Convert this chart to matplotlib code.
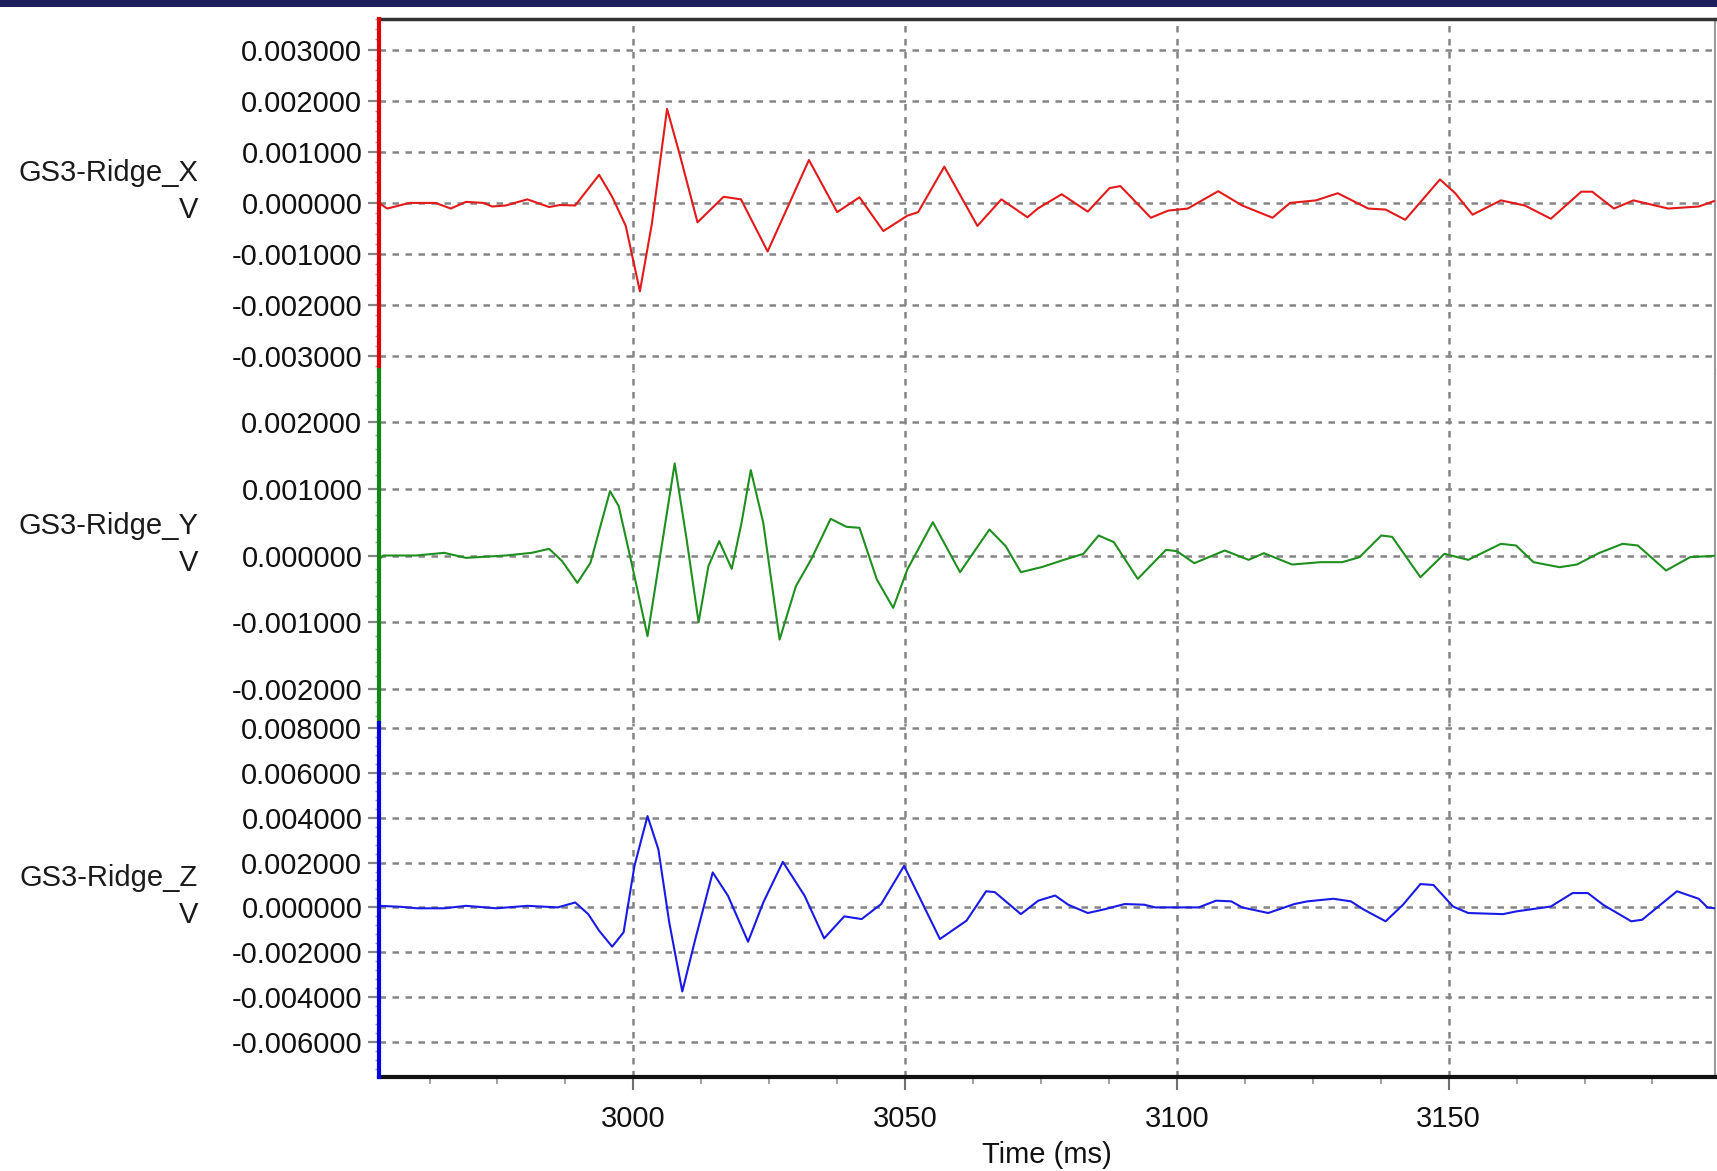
import numpy as np
import matplotlib
matplotlib.use("Agg")
import matplotlib.pyplot as plt
from matplotlib.ticker import FixedLocator, MultipleLocator, AutoMinorLocator, FormatStrFormatter
import matplotlib.transforms as mtransforms
from matplotlib.patches import Rectangle

plt.rcParams['font.family'] = ['Liberation Sans', 'DejaVu Sans']

# ---------------- data (time in ms, amplitude in mV -> converted to V) ----------------
x_time = [2953.2, 2954.7, 2958.8, 2963.6, 2966.4, 2969.2, 2972.5, 2974.0, 2976.5, 2980.5,
          2984.5, 2986.5, 2989.3, 2993.7, 2996.1, 2998.6, 3001.2, 3003.4, 3006.2, 3008.6,
          3011.8, 3016.6, 3019.8, 3024.7, 3032.3, 3037.5, 3041.6, 3046.0, 3050.4, 3052.4,
          3057.2, 3063.3, 3067.7, 3072.5, 3074.4, 3078.8, 3083.6, 3087.6, 3089.6, 3095.2,
          3098.4, 3102.0, 3107.6, 3112.0, 3117.6, 3120.8, 3125.6, 3129.6, 3135.2, 3138.4,
          3142.0, 3148.4, 3151.2, 3154.4, 3159.6, 3164.0, 3168.8, 3174.4, 3176.4, 3180.4,
          3184.0, 3188.0, 3190.4, 3196.0, 3199.2]
x_mv = [0.0, -0.11, 0.0, 0.0, -0.11, 0.02, 0.0, -0.07, -0.05, 0.07,
        -0.08, -0.04, -0.05, 0.55, 0.12, -0.45, -1.73, -0.41, 1.84, 0.92,
        -0.38, 0.12, 0.07, -0.95, 0.84, -0.18, 0.11, -0.55, -0.25, -0.18,
        0.71, -0.45, 0.07, -0.28, -0.11, 0.17, -0.17, 0.29, 0.33, -0.29,
        -0.15, -0.11, 0.23, -0.05, -0.29, 0.0, 0.05, 0.19, -0.11, -0.13,
        -0.33, 0.46, 0.19, -0.23, 0.05, -0.05, -0.31, 0.22, 0.22, -0.11,
        0.05, -0.05, -0.11, -0.07, 0.05]

y_time = [2953.2, 2954.0, 2960.0, 2965.2, 2969.2, 2976.5, 2981.3, 2984.5, 2986.9, 2989.7,
          2992.1, 2995.7, 2997.3, 2999.8, 3002.6, 3005.4, 3007.6, 3009.8, 3012.0, 3013.8,
          3015.8, 3018.1, 3019.9, 3021.6, 3023.9, 3026.9, 3029.9, 3032.7, 3036.3, 3039.2,
          3041.6, 3044.8, 3047.8, 3050.4, 3055.1, 3060.1, 3065.5, 3068.5, 3071.3, 3075.3,
          3079.2, 3082.8, 3085.6, 3088.4, 3092.8, 3098.0, 3100.0, 3103.2, 3108.8, 3113.2,
          3116.0, 3121.2, 3126.4, 3130.4, 3133.6, 3137.6, 3139.6, 3144.8, 3149.2, 3153.6,
          3159.6, 3162.4, 3165.6, 3170.4, 3173.6, 3177.6, 3182.0, 3184.8, 3190.0, 3194.4,
          3199.8]
y_mv = [-0.06, 0.0, 0.0, 0.04, -0.035, 0.0, 0.04, 0.1, -0.085, -0.41,
        -0.11, 0.965, 0.74, -0.16, -1.21, 0.24, 1.38, 0.24, -1.0, -0.16,
        0.215, -0.2, 0.49, 1.28, 0.49, -1.26, -0.46, -0.06, 0.55, 0.43,
        0.415, -0.36, -0.785, -0.21, 0.5, -0.25, 0.39, 0.14, -0.25, -0.17,
        -0.065, 0.025, 0.3, 0.2, -0.35, 0.085, 0.065, -0.115, 0.075, -0.065,
        0.035, -0.135, -0.1, -0.1, -0.025, 0.3, 0.28, -0.325, 0.025, -0.065,
        0.175, 0.15, -0.1, -0.175, -0.135, 0.035, 0.175, 0.15, -0.225, -0.025,
        0.0]

z_time = [2953.2, 2957.0, 2960.3, 2965.2, 2969.2, 2974.8, 2980.5, 2986.1, 2989.3, 2991.7,
          2993.7, 2996.1, 2998.2, 3000.2, 3002.6, 3004.6, 3006.6, 3009.0, 3011.4, 3014.6,
          3017.4, 3021.1, 3023.9, 3027.5, 3031.5, 3035.1, 3038.8, 3042.0, 3045.6, 3049.8,
          3052.8, 3056.4, 3061.3, 3064.9, 3066.5, 3071.3, 3074.5, 3077.6, 3080.0, 3083.6,
          3086.4, 3090.4, 3094.0, 3096.0, 3104.0, 3107.2, 3110.0, 3112.0, 3116.8, 3121.6,
          3124.0, 3128.8, 3132.0, 3134.4, 3138.4, 3141.6, 3144.8, 3147.2, 3150.8, 3153.6,
          3160.0, 3162.4, 3168.8, 3172.8, 3175.6, 3178.4, 3183.6, 3185.6, 3192.0, 3196.0,
          3197.6, 3199.8]
z_mv = [0.07, 0.03, -0.04, -0.04, 0.07, -0.04, 0.07, 0.0, 0.22, -0.3,
        -1.04, -1.75, -1.11, 1.85, 4.07, 2.59, -0.67, -3.75, -1.41, 1.56,
        0.52, -1.53, 0.22, 2.03, 0.52, -1.38, -0.4, -0.52, 0.15, 1.85,
        0.37, -1.41, -0.59, 0.72, 0.68, -0.3, 0.3, 0.53, 0.12, -0.25,
        -0.1, 0.15, 0.12, 0.0, 0.0, 0.3, 0.27, 0.0, -0.25, 0.15,
        0.27, 0.385, 0.27, -0.1, -0.62, 0.12, 1.04, 1.0, 0.04, -0.25,
        -0.3, -0.18, 0.04, 0.64, 0.64, 0.12, -0.62, -0.55, 0.72, 0.385,
        0.0, -0.06]

channel_names = ["GS3-Ridge_X", "GS3-Ridge_Y", "GS3-Ridge_Z"]
unit_label = "V"
x_ticks = [3000, 3050, 3100, 3150]
y_ticks_x = [-0.003, -0.002, -0.001, 0.0, 0.001, 0.002, 0.003]
y_ticks_y = [-0.002, -0.001, 0.0, 0.001, 0.002]
y_ticks_z = [-0.006, -0.004, -0.002, 0.0, 0.002, 0.004, 0.006, 0.008]
xlabel = "Time (ms)"

# ---------------- figure ----------------
W, H = 1717, 1171
fig = plt.figure(figsize=(W / 100, H / 100), dpi=100)
fig.patch.set_facecolor("white")

# dark title band at the very top
fig.add_artist(Rectangle((0, 1 - 7 / H), 1, 7 / H, transform=fig.transFigure,
                         facecolor="#1b1f5c", edgecolor="none"))

left_px, right_px = 379, 1715
bounds = [(19, 370), (370, 723), (723, 1077)]
ylims = [(-0.00327, 0.00360), (-0.00251, 0.00278), (-0.00756, 0.00822)]
colors = ["#e41a1a", "#1f8f1f", "#1a1ae6"]
spine_colors = ["#e00000", "#118811", "#0000e0"]
series = [(x_time, x_mv), (y_time, y_mv), (z_time, z_mv)]
yticks = [y_ticks_x, y_ticks_y, y_ticks_z]

grid_kw = dict(color="#858585", linestyle=(0, (2.6, 2.6)), linewidth=1.8)
axes = []
for i in range(3):
    top, bot = bounds[i]
    ax = fig.add_axes([left_px / W, 1 - bot / H, (right_px - left_px) / W, (bot - top) / H])
    axes.append(ax)
    t, v = series[i]
    ax.plot(t, np.array(v) * 1e-3, color=colors[i], linewidth=1.5, zorder=3,
            solid_joinstyle="round")
    ax.set_xlim(2953.2, 3199.0)
    ax.set_ylim(*ylims[i])
    ax.yaxis.set_major_locator(FixedLocator(yticks[i]))
    ax.yaxis.set_major_formatter(FormatStrFormatter("%.6f"))
    ax.yaxis.set_minor_locator(AutoMinorLocator(5))
    ax.xaxis.set_major_locator(FixedLocator(x_ticks))
    ax.xaxis.set_minor_locator(MultipleLocator(12.5))
    ax.grid(True, which="major", axis="both", **grid_kw)
    ax.set_axisbelow(True)
    ax.tick_params(axis="y", which="major", direction="out", length=8, width=1.6,
                   color="#858585", labelsize=21, labelcolor="#111111", pad=4)
    ax.tick_params(axis="y", which="minor", direction="out", length=3, width=1.0,
                   color="#9a9a9a")
    for s in ["top", "bottom", "right"]:
        ax.spines[s].set_visible(False)
    ax.spines["left"].set_color(spine_colors[i])
    ax.spines["left"].set_linewidth(3.0)
    ax.spines["left"].set_zorder(5)
    ax.spines["right"].set_visible(True)
    ax.spines["right"].set_color("#9a9a9a")
    ax.spines["right"].set_linewidth(1.5)
    if i < 2:
        ax.tick_params(axis="x", which="both", bottom=False, labelbottom=False)
    else:
        ax.tick_params(axis="x", which="major", direction="out", length=9, width=1.5,
                       color="#707070", labelsize=21, labelcolor="#111111", pad=11)
        ax.tick_params(axis="x", which="minor", direction="out", length=5, width=1.2,
                       color="#909090")
        ax.spines["bottom"].set_visible(True)
        ax.spines["bottom"].set_color("#111111")
        ax.spines["bottom"].set_linewidth(3.0)
        ax.set_xlabel(xlabel, fontsize=21, color="#111111", labelpad=6)
    if i == 0:
        ax.spines["top"].set_visible(True)
        ax.spines["top"].set_color("#333333")
        ax.spines["top"].set_linewidth(2.5)

    # channel label (two lines, right aligned) left of tick labels
    trans = mtransforms.blended_transform_factory(fig.transFigure, ax.transData)
    trans = trans + mtransforms.ScaledTranslation(0, 8 / 72, fig.dpi_scale_trans)
    ax.text(198 / W, 0.0, channel_names[i] + "\n" + unit_label, transform=trans,
            ha="right", va="center", multialignment="right", fontsize=21,
            color="#1a1a1a", linespacing=1.4)

fig.savefig("out.png", dpi=100, facecolor=fig.get_facecolor())
